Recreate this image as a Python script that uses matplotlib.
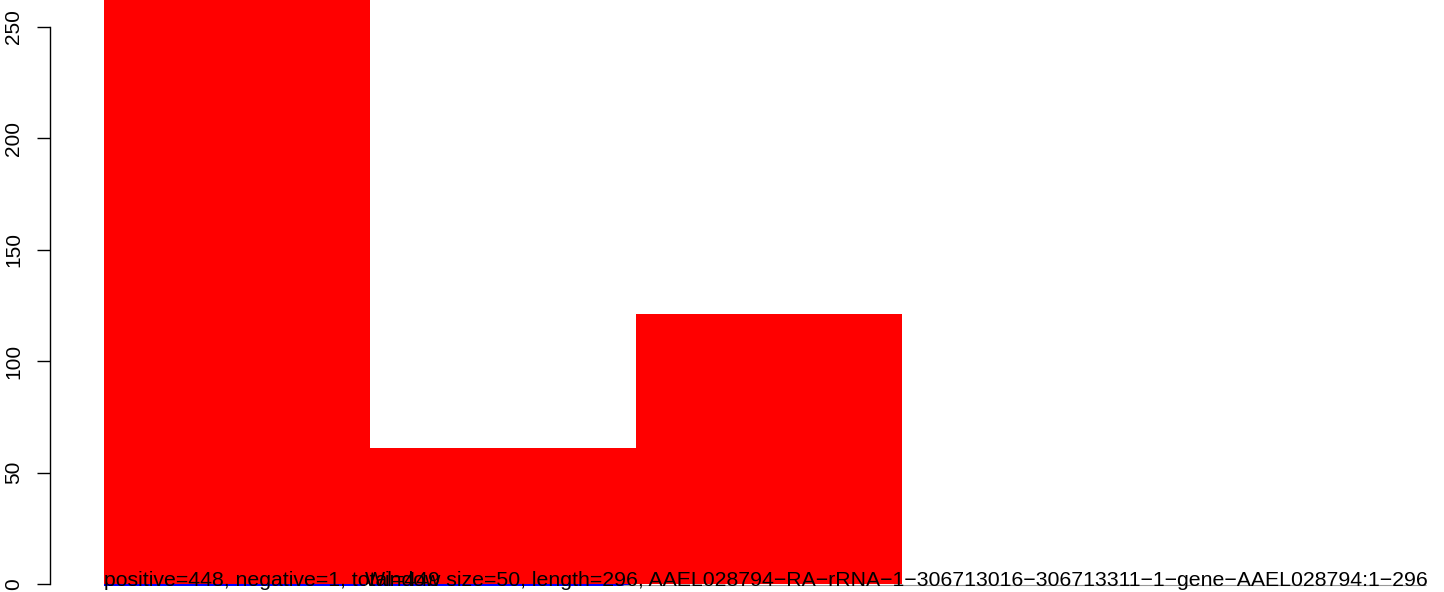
import matplotlib
matplotlib.use("Agg")
import matplotlib.pyplot as plt

plt.rcParams['font.family'] = ['Liberation Sans', 'DejaVu Sans']

windows = [0, 1, 2, 3, 4]
positive = [266, 61, 121, 0, 0]
negative = [-1, -1, 0, 0, 0]
yticks = [0, 50, 100, 150, 200, 250]
info_left = "positive=448, negative=1, total=449"
info_right = "Window size=50, length=296, AAEL028794\u2212RA\u2212rRNA\u22121\u2212306713016\u2212306713311\u22121\u2212gene\u2212AAEL028794:1\u2212296"

px = 72 / 100  # points per pixel

fig = plt.figure(figsize=(14.44, 5.92), dpi=100)
ax = fig.add_axes([104/1444, 0, 1340/1444, 1])
ax.set_xlim(0, 1340/266)
ax.set_ylim(-8/2.228, 584/2.228)

ax.bar(windows, positive, width=1.0, align='edge', color='#ff0000', linewidth=0)
ax.bar(windows, negative, width=0.98, align='edge', color='#0000ff', linewidth=0)
ax.hlines(-0.6, 1.95, 4.97, color='#999999', linewidth=0.8)

for s in ['top', 'right', 'bottom']:
    ax.spines[s].set_visible(False)
ax.spines['left'].set_position(('outward', 54 * px))
ax.spines['left'].set_bounds(0, 250)
ax.spines['left'].set_linewidth(1)
ax.set_yticks(yticks)
ax.set_yticklabels([str(v) for v in yticks], rotation=90, va='center', fontsize=15)
ax.tick_params(axis='y', length=13 * px, width=1, pad=14 * px)
ax.set_xticks([])

ax.text(0, -0.9, info_left, fontsize=15.3, ha='left', va='baseline')
ax.text(0.98, -0.9, info_right, fontsize=15.3, ha='left', va='baseline')

fig.savefig("out.png", dpi=100)
